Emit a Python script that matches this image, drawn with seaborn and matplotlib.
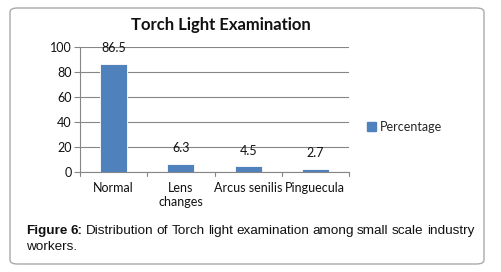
import matplotlib
matplotlib.use("Agg")
import matplotlib.pyplot as plt
import seaborn as sns
import pandas as pd
from matplotlib.patches import FancyBboxPatch, Patch

categories = ["Normal", "Lens\nchanges", "Arcus senilis", "Pinguecula"]
percentage = [86.5, 6.3, 4.5, 2.7]
yticks = [0, 20, 40, 60, 80, 100]
title = "Torch Light Examination"
series_name = "Percentage"
caption_bold = "Figure 6:"
caption_line1 = "Distribution of Torch light examination among small scale industry"
caption_line2 = "workers."

df = pd.DataFrame({"cat": categories, "val": percentage})

sns.set_style("white")
plt.rcParams["font.family"] = ["Lato", "DejaVu Sans"]

W, H = 501, 272
fig = plt.figure(figsize=(W/100, H/100), dpi=100)
ax = fig.add_axes([80/W, 1-172/H, (349-80)/W, (172-47)/H])

bar_color = "#4F81BD"
sns.barplot(data=df, x="cat", y="val", color=bar_color, width=0.4,
            ax=ax, saturation=1, edgecolor="white", linewidth=0.6)

ax.set_ylim(0, 100)
ax.set_xlim(-0.5, len(categories) - 0.5)
ax.set_yticks(yticks)
ax.set_yticklabels([str(t) for t in yticks], fontsize=9, color="#111111")
ax.set_xlabel("")
ax.set_ylabel("")
ax.tick_params(axis="x", length=0, pad=7, labelsize=9, labelcolor="#111111")
ax.tick_params(axis="y", length=4, width=0.8, color="#868686", pad=2, direction="out", left=True)

for b in [i - 0.5 for i in range(len(categories) + 1)]:
    ax.plot([b, b], [0, -3], color="#868686", lw=0.8, clip_on=False)

ax.grid(axis="y", color="#868686", lw=0.8)
ax.set_axisbelow(True)
for s in ["top", "right"]:
    ax.spines[s].set_visible(False)
for s in ["left", "bottom"]:
    ax.spines[s].set_color("#868686")
    ax.spines[s].set_linewidth(0.8)

for c in ax.containers:
    ax.bar_label(c, labels=[f"{v:g}" for v in percentage], padding=7, fontsize=9, color="#111111")

ax.legend(handles=[Patch(color=bar_color, label=series_name)],
          loc="center left", bbox_to_anchor=(356/W, 1-127/H),
          bbox_transform=fig.transFigure, frameon=False, fontsize=9,
          handlelength=0.7, handleheight=0.7, handletextpad=0.3)

fig.text(221/W, 1-25/H, title, ha="center", va="center", fontsize=12, fontweight="bold", color="#111111")

# justified caption first line
cap_fs = 9.7
renderer = fig.canvas.get_renderer()
words = [(w, "bold") for w in caption_bold.split()] + \
        [(w, "normal") for w in caption_line1.split()]
texts = []
for w, fw in words:
    t = fig.text(0, 1-231/H, w, ha="left", va="center", fontsize=cap_fs, fontweight=fw,
                 family="Liberation Sans", color="#111111")
    texts.append(t)
widths = [t.get_window_extent(renderer).width for t in texts]
x0, x1 = 26, 474
gap = (x1 - x0 - sum(widths)) / (len(words) - 1)
x = x0
for t, wd in zip(texts, widths):
    t.set_x(x / W)
    x += wd + gap
fig.text(26/W, 1-247/H, caption_line2, ha="left", va="center", fontsize=cap_fs,
         family="Liberation Sans", color="#111111")

border = FancyBboxPatch((10/W, 1-264/H), (484-10)/W, (264-8)/H,
                        boxstyle="round,pad=0,rounding_size=0.015",
                        transform=fig.transFigure, fill=False, edgecolor="#AAAAAA", lw=1)
fig.patches.append(border)

fig.savefig("out.png", dpi=100)
